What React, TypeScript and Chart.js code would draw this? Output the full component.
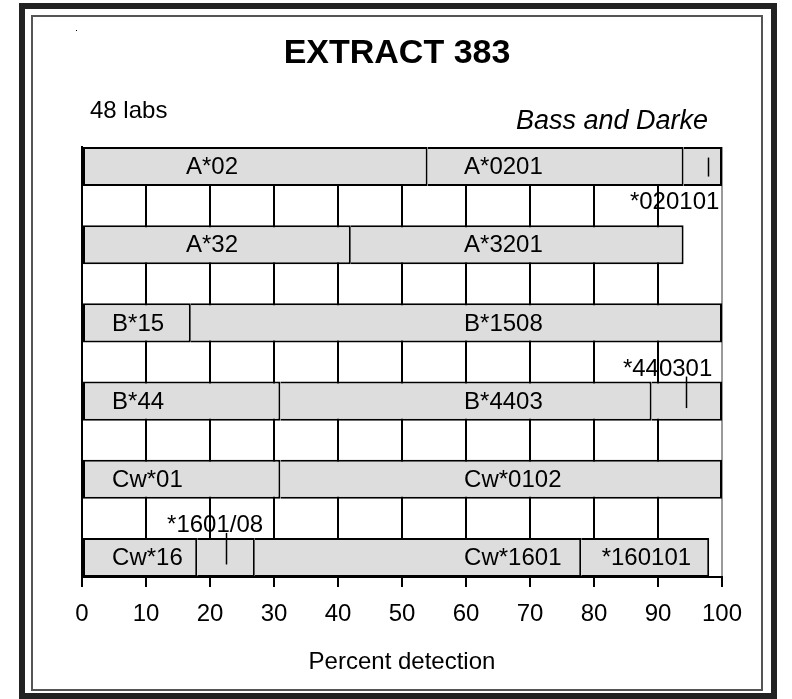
import React, { useEffect, useRef } from "react";
import { Chart, registerables } from "chart.js";

Chart.register(...registerables);

// ---- data ----
const rowNames = ["A*02", "A*32", "B*15", "B*44", "Cw*01", "Cw*16"];
const segA02 = [54, 40, 6];
const segA32 = [42, 52];
const segB15 = [17, 83];
const segB44 = [31, 58, 11];
const segCw01 = [31, 69];
const segCw16 = [18, 9, 51, 20];
const labA02 = ["A*02", "A*0201", ""];
const labA32 = ["A*32", "A*3201"];
const labB15 = ["B*15", "B*1508"];
const labB44 = ["B*44", "B*4403", ""];
const labCw01 = ["Cw*01", "Cw*0102"];
const labCw16 = ["Cw*16", "", "Cw*1601", "*160101"];
const xTickValues = [0, 10, 20, 30, 40, 50, 60, 70, 80, 90, 100];

// label anchors (value where the text starts)
const anchorA02 = [16.25, 59.7, 0];
const anchorA32 = [16.25, 59.7];
const anchorB15 = [4.7, 59.7];
const anchorB44 = [4.7, 59.7, 0];
const anchorCw01 = [4.7, 59.7];
const anchorCw16 = [4.7, 0, 59.7, 81.2];

// callouts: row index, text, text centre value, leader line value
const calloutRows = [0, 3, 5];
const calloutTexts = ["*020101", "*440301", "*1601/08"];
const calloutTextAt = [92.6, 91.5, 20.8];
const calloutLineAt = [97.8, 94.4, 22.5];

const allSegs = [segA02, segA32, segB15, segB44, segCw01, segCw16];
const allLabs = [labA02, labA32, labB15, labB44, labCw01, labCw16];
const allAnchors = [anchorA02, anchorA32, anchorB15, anchorB44, anchorCw01, anchorCw16];

const FONT = "'Liberation Sans', Arial, Helvetica, sans-serif";

export default function App() {
  const ref = useRef<HTMLCanvasElement | null>(null);

  useEffect(() => {
    const canvas = ref.current;
    if (!canvas) return;

    // 11 category slots: rows interleaved with empty gap rows
    const cats: string[] = [];
    rowNames.forEach((r, i) => {
      cats.push(r);
      if (i < rowNames.length - 1) cats.push(" ".repeat(i + 1));
    });
    const maxSeg = Math.max(...allSegs.map((s) => s.length));
    const datasets = [];
    for (let s = 0; s < maxSeg; s++) {
      datasets.push({
        label: "seg" + s,
        data: cats.map((_, i) => (i % 2 === 0 ? (allSegs[i / 2][s] ?? null) : null)),
        backgroundColor: "#dddddd",
        borderColor: "#000000",
        borderSkipped: false,
        inflateAmount: 0,
        borderWidth: (ctx: any) => {
          const si = ctx.datasetIndex;
          return { top: 2, bottom: 2, left: si === 0 ? 2 : 0, right: 2 };
        },
        barPercentage: 1,
        categoryPercentage: 1,
      });
    }

    const framePlugin = {
      id: "frame",
      beforeDraw(chart: any) {
        const c = chart.ctx;
        c.save();
        c.fillStyle = "#ffffff";
        c.fillRect(0, 0, chart.width, chart.height);
        c.strokeStyle = "#222222";
        c.lineWidth = 6;
        c.strokeRect(22, 6, 752, 690);
        c.strokeStyle = "#555555";
        c.lineWidth = 2;
        c.strokeRect(32, 16, 730, 674);
        c.fillStyle = "#000";
        c.fillRect(76, 30, 1, 1);
        c.restore();
      },
    };

    const textPlugin = {
      id: "texts",
      afterDatasetsDraw(chart: any) {
        const c = chart.ctx;
        const xs = chart.scales.x;
        const ys = chart.scales.y;
        c.save();
        c.fillStyle = "#000";
        // title & notes
        c.textBaseline = "alphabetic";
        c.textAlign = "center";
        c.font = `bold 34px ${FONT}`;
        c.fillText("EXTRACT 383", 397, 63);
        c.textAlign = "left";
        c.font = `24px ${FONT}`;
        c.fillText("48 labs", 90, 118);
        c.textAlign = "right";
        c.font = `italic 27px ${FONT}`;
        c.fillText("Bass and Darke", 708, 129);

        // bar labels
        c.font = `24px ${FONT}`;
        c.textAlign = "left";
        c.textBaseline = "middle";
        allLabs.forEach((labs, r) => {
          const y = ys.getPixelForValue(r * 2);
          labs.forEach((t, s) => {
            if (!t) return;
            c.fillText(t, xs.getPixelForValue(allAnchors[r][s]), y + 1);
          });
        });

        // callouts
        const slot = Math.abs(ys.getPixelForValue(1) - ys.getPixelForValue(0));
        c.textAlign = "center";
        c.strokeStyle = "#000";
        c.lineWidth = 1.5;
        calloutRows.forEach((r, k) => {
          const rowY = ys.getPixelForValue(r * 2);
          const below = k === 0;
          const ty = below ? rowY + slot - 3 : rowY - slot + 7;
          c.fillText(calloutTexts[k], xs.getPixelForValue(calloutTextAt[k]), ty);
          const lx = Math.round(xs.getPixelForValue(calloutLineAt[k])) + 0.5;
          c.beginPath();
          if (below) {
            c.moveTo(lx, rowY - 9);
            c.lineTo(lx, rowY + 10);
          } else {
            c.moveTo(lx, rowY - slot / 2 - 5);
            c.lineTo(lx, rowY + 7);
          }
          c.stroke();
        });
        c.restore();
      },
    };

    const chart = new Chart(canvas, {
      type: "bar",
      data: { labels: cats, datasets: datasets as any },
      options: {
        responsive: false,
        animation: false,
        indexAxis: "y",
        layout: { padding: { left: 82, right: 70, top: 147, bottom: 0 } },
        plugins: {
          legend: { display: false },
          tooltip: { enabled: false },
          title: { display: false },
        },
        scales: {
          x: {
            type: "linear",
            min: 0,
            max: 100,
            stacked: true,
            afterBuildTicks: (s: any) => {
              s.ticks = xTickValues.map((v) => ({ value: v }));
            },
            ticks: {
              font: { family: FONT, size: 24 },
              color: "#000",
              padding: 13,
              maxRotation: 0,
              autoSkip: false,
            },
            grid: {
              color: (ctx: any) => (ctx.tick && ctx.tick.value === 100 ? "#9a9a9a" : "#000"),
              lineWidth: 2,
              tickLength: 10,
              tickColor: "#000",
              tickWidth: 2,
              drawOnChartArea: true,
            },
            border: { display: true, color: "#000", width: 2 },
            title: {
              display: true,
              text: "Percent detection",
              font: { family: FONT, size: 24 },
              color: "#000",
              padding: { top: 0, bottom: 22 },
            },
            afterFit: (s: any) => {
              s.height = 122;
            },
          } as any,
          y: {
            type: "category",
            stacked: true,
            offset: true,
            ticks: { display: false },
            grid: { display: false, drawTicks: false },
            border: { display: true, color: "#000", width: 2 },
            afterFit: (s: any) => {
              s.width = 0;
            },
          } as any,
        },
      },
      plugins: [framePlugin, textPlugin],
    });
    return () => chart.destroy();
  }, []);

  return (
    <div style={{ position: "absolute", left: 0, top: 0, width: 792, height: 699 }}>
      <canvas ref={ref} width={792} height={699} style={{ display: "block" }} />
    </div>
  );
}
